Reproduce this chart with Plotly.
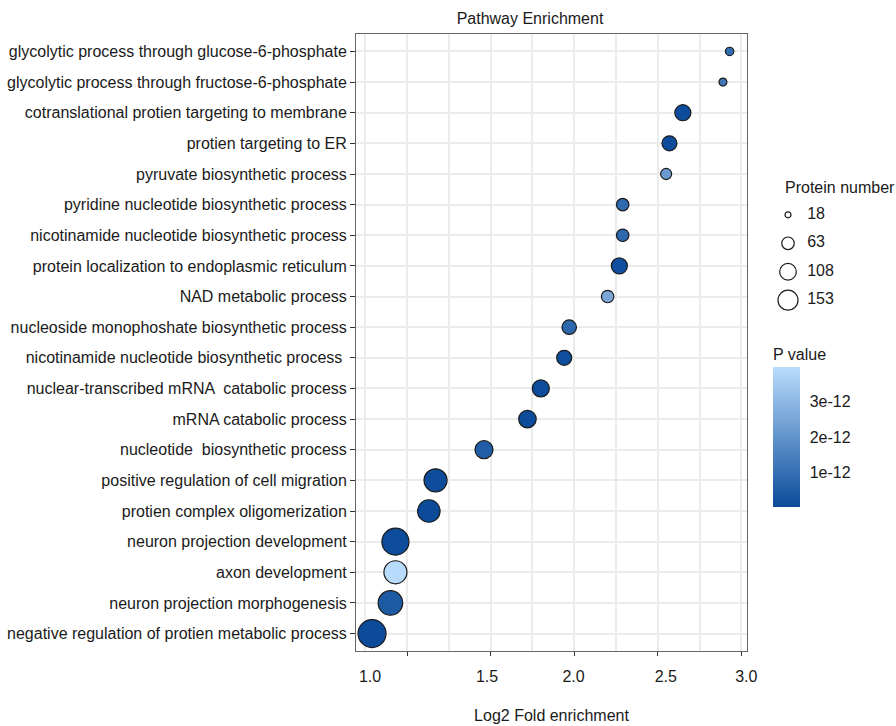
import numpy as np
import plotly.graph_objects as go

# ---------------- data (top row first) ----------------
pathways = [
    "glycolytic process through glucose-6-phosphate",
    "glycolytic process through fructose-6-phosphate",
    "cotranslational protien targeting to membrane",
    "protien targeting to ER",
    "pyruvate biosynthetic process",
    "pyridine nucleotide biosynthetic process",
    "nicotinamide nucleotide biosynthetic process",
    "protein localization to endoplasmic reticulum",
    "NAD metabolic process",
    "nucleoside monophoshate biosynthetic process",
    "nicotinamide nucleotide biosynthetic process ",
    "nuclear-transcribed mRNA  catabolic process",
    "mRNA catabolic process",
    "nucleotide  biosynthetic process",
    "positive regulation of cell migration",
    "protien complex oligomerization",
    "neuron projection development",
    "axon development",
    "neuron projection morphogenesis",
    "negative regulation of protien metabolic process",
]
log2_fold = [2.93, 2.89, 2.65, 2.57, 2.55, 2.29, 2.29, 2.27, 2.20, 1.97,
             1.94, 1.80, 1.72, 1.46, 1.17, 1.13, 0.93, 0.93, 0.90, 0.79]
protein_number = [31, 28, 100, 88, 50, 62, 62, 100, 62, 82,
                  88, 112, 118, 125, 201, 192, 275, 201, 227, 295]
p_value = [0.9e-12, 1.2e-12, 0.08e-12, 0.08e-12, 2.2e-12, 0.85e-12, 0.8e-12, 0.15e-12, 2.55e-12, 0.8e-12,
           0.12e-12, 0.08e-12, 0.08e-12, 0.55e-12, 0.08e-12, 0.05e-12, 0.06e-12, 3.95e-12, 0.45e-12, 0.04e-12]

legend_numbers = [18, 63, 108, 153]
legend_labels = ["18", "63", "108", "153"]
x_tick_values = [1.0, 1.5, 2.0, 2.5, 3.0]
x_tick_label_pos = [0.778, 1.478, 1.996, 2.548, 3.03]
x_tick_labels = ["1.0", "1.5", "2.0", "2.5", "3.0"]
cbar_ticks = [1e-12, 2e-12, 3e-12]
cbar_labels = ["1e-12", "2e-12", "3e-12"]


def size_scale(n):
    n = np.asarray(n, dtype=float)
    return np.sqrt(36 + 2.7 * (n - 18))


FONT = "Liberation Sans, Arial, sans-serif"
FS = 16
TXT = "#1a1a1a"
GRID = "#ebebeb"
colorscale = [[0, "#0b4b9a"], [1, "#b9dcfc"]]

W, H = 896, 726
ML, MR, MT, MB = 356, 10, 34, 75
PW = W - ML - MR
PH = H - MT - MB
panel_right_px = 747
xdom_end = (panel_right_px - ML) / PW


def px_x(px):
    return (px - ML) / PW


def px_y(py):
    return 1 - (py - MT) / PH


fig = go.Figure()

fig.add_trace(go.Scatter(
    x=log2_fold, y=pathways, mode="markers",
    marker=dict(size=size_scale(protein_number), color=p_value, opacity=1,
                colorscale=colorscale, cmin=0.04e-12, cmax=3.98e-12,
                line=dict(color="#1a1a1a", width=1.2),
                colorbar=dict(
                    title=dict(text="P value", side="top",
                               font=dict(family=FONT, size=FS, color=TXT)),
                    x=px_x(773), xanchor="left", xpad=0,
                    y=px_y(507), yanchor="bottom", ypad=0,
                    thickness=27, len=162, lenmode="pixels",
                    outlinewidth=0, tickvals=cbar_ticks, ticktext=cbar_labels,
                    ticks="outside", tickcolor="white", ticklen=7,
                    tickfont=dict(family=FONT, size=FS, color=TXT),
                )),
    showlegend=False, xaxis="x", yaxis="y", hoverinfo="x+y",
))

# dummy trace on overlay axis for shifted tick labels
fig.add_trace(go.Scatter(x=[None], y=[None], xaxis="x2", yaxis="y",
                         showlegend=False, hoverinfo="skip"))

# size legend
leg_idx = list(range(len(legend_numbers)))
fig.add_trace(go.Scatter(
    x=[0.3] * len(legend_numbers), y=leg_idx, mode="markers",
    marker=dict(size=size_scale(legend_numbers), color="white", opacity=1,
                line=dict(color="#1a1a1a", width=1.2)),
    xaxis="x3", yaxis="y3", showlegend=False, hoverinfo="skip", cliponaxis=False,
))
fig.add_trace(go.Scatter(
    x=[0.62] * len(legend_numbers), y=leg_idx, mode="text",
    text=legend_labels, textposition="middle right",
    textfont=dict(family=FONT, size=FS, color=TXT),
    xaxis="x3", yaxis="y3", showlegend=False, hoverinfo="skip", cliponaxis=False,
))

xrange = [0.694, 3.034]
fig.update_layout(
    width=W, height=H,
    margin=dict(l=ML, r=MR, t=MT, b=MB, autoexpand=False),
    paper_bgcolor="white", plot_bgcolor="white",
    font=dict(family=FONT, size=FS, color=TXT),
    title=dict(text="Pathway Enrichment", x=px_x(530), xref="paper", xanchor="center",
               y=1 - 18 / H, yref="container", yanchor="middle",
               font=dict(family=FONT, size=FS, color=TXT)),
    xaxis=dict(domain=[0, xdom_end], range=xrange, tickvals=x_tick_values,
               showticklabels=False, ticks="outside", ticklen=4, tickcolor="#333",
               showgrid=True, gridcolor=GRID, gridwidth=1.5,
               minor=dict(dtick=0.25, tick0=0, showgrid=True, gridcolor=GRID, gridwidth=1.5),
               showline=True, linecolor="#666", linewidth=1, mirror=True,
               zeroline=False, automargin=False,
               title=dict(text="Log2 Fold enrichment", standoff=54,
                          font=dict(family=FONT, size=FS, color=TXT))),
    xaxis2=dict(overlaying="x", matches="x", side="bottom", range=xrange,
                tickvals=x_tick_label_pos, ticktext=x_tick_labels, ticks="",
                showgrid=False, showline=False, zeroline=False,
                tickfont=dict(family=FONT, size=FS, color=TXT),
                ticklabelstandoff=14, automargin=False),
    yaxis=dict(domain=[0, 1], type="category",
               categoryorder="array", categoryarray=pathways[::-1],
               range=[-0.57, 19.57], ticks="outside", ticklen=5, tickcolor="#333",
               showgrid=True, gridcolor=GRID, gridwidth=1.5,
               showline=True, linecolor="#666", linewidth=1, mirror=True,
               tickfont=dict(family=FONT, size=FS, color=TXT),
               automargin=False),
    xaxis3=dict(domain=[px_x(770), px_x(830)], range=[0, 1], visible=False, anchor="y3"),
    yaxis3=dict(domain=[px_y(313), px_y(202)], range=[3.45, -0.45], visible=False, anchor="x3"),
    annotations=[dict(text="Protein number", xref="paper", yref="paper",
                      x=px_x(783), y=px_y(188), xanchor="left", yanchor="middle",
                      showarrow=False, font=dict(family=FONT, size=FS, color=TXT))],
)

fig.write_html("out.html", config={"displayModeBar": False},
               post_script="document.body.style.margin='0';")
